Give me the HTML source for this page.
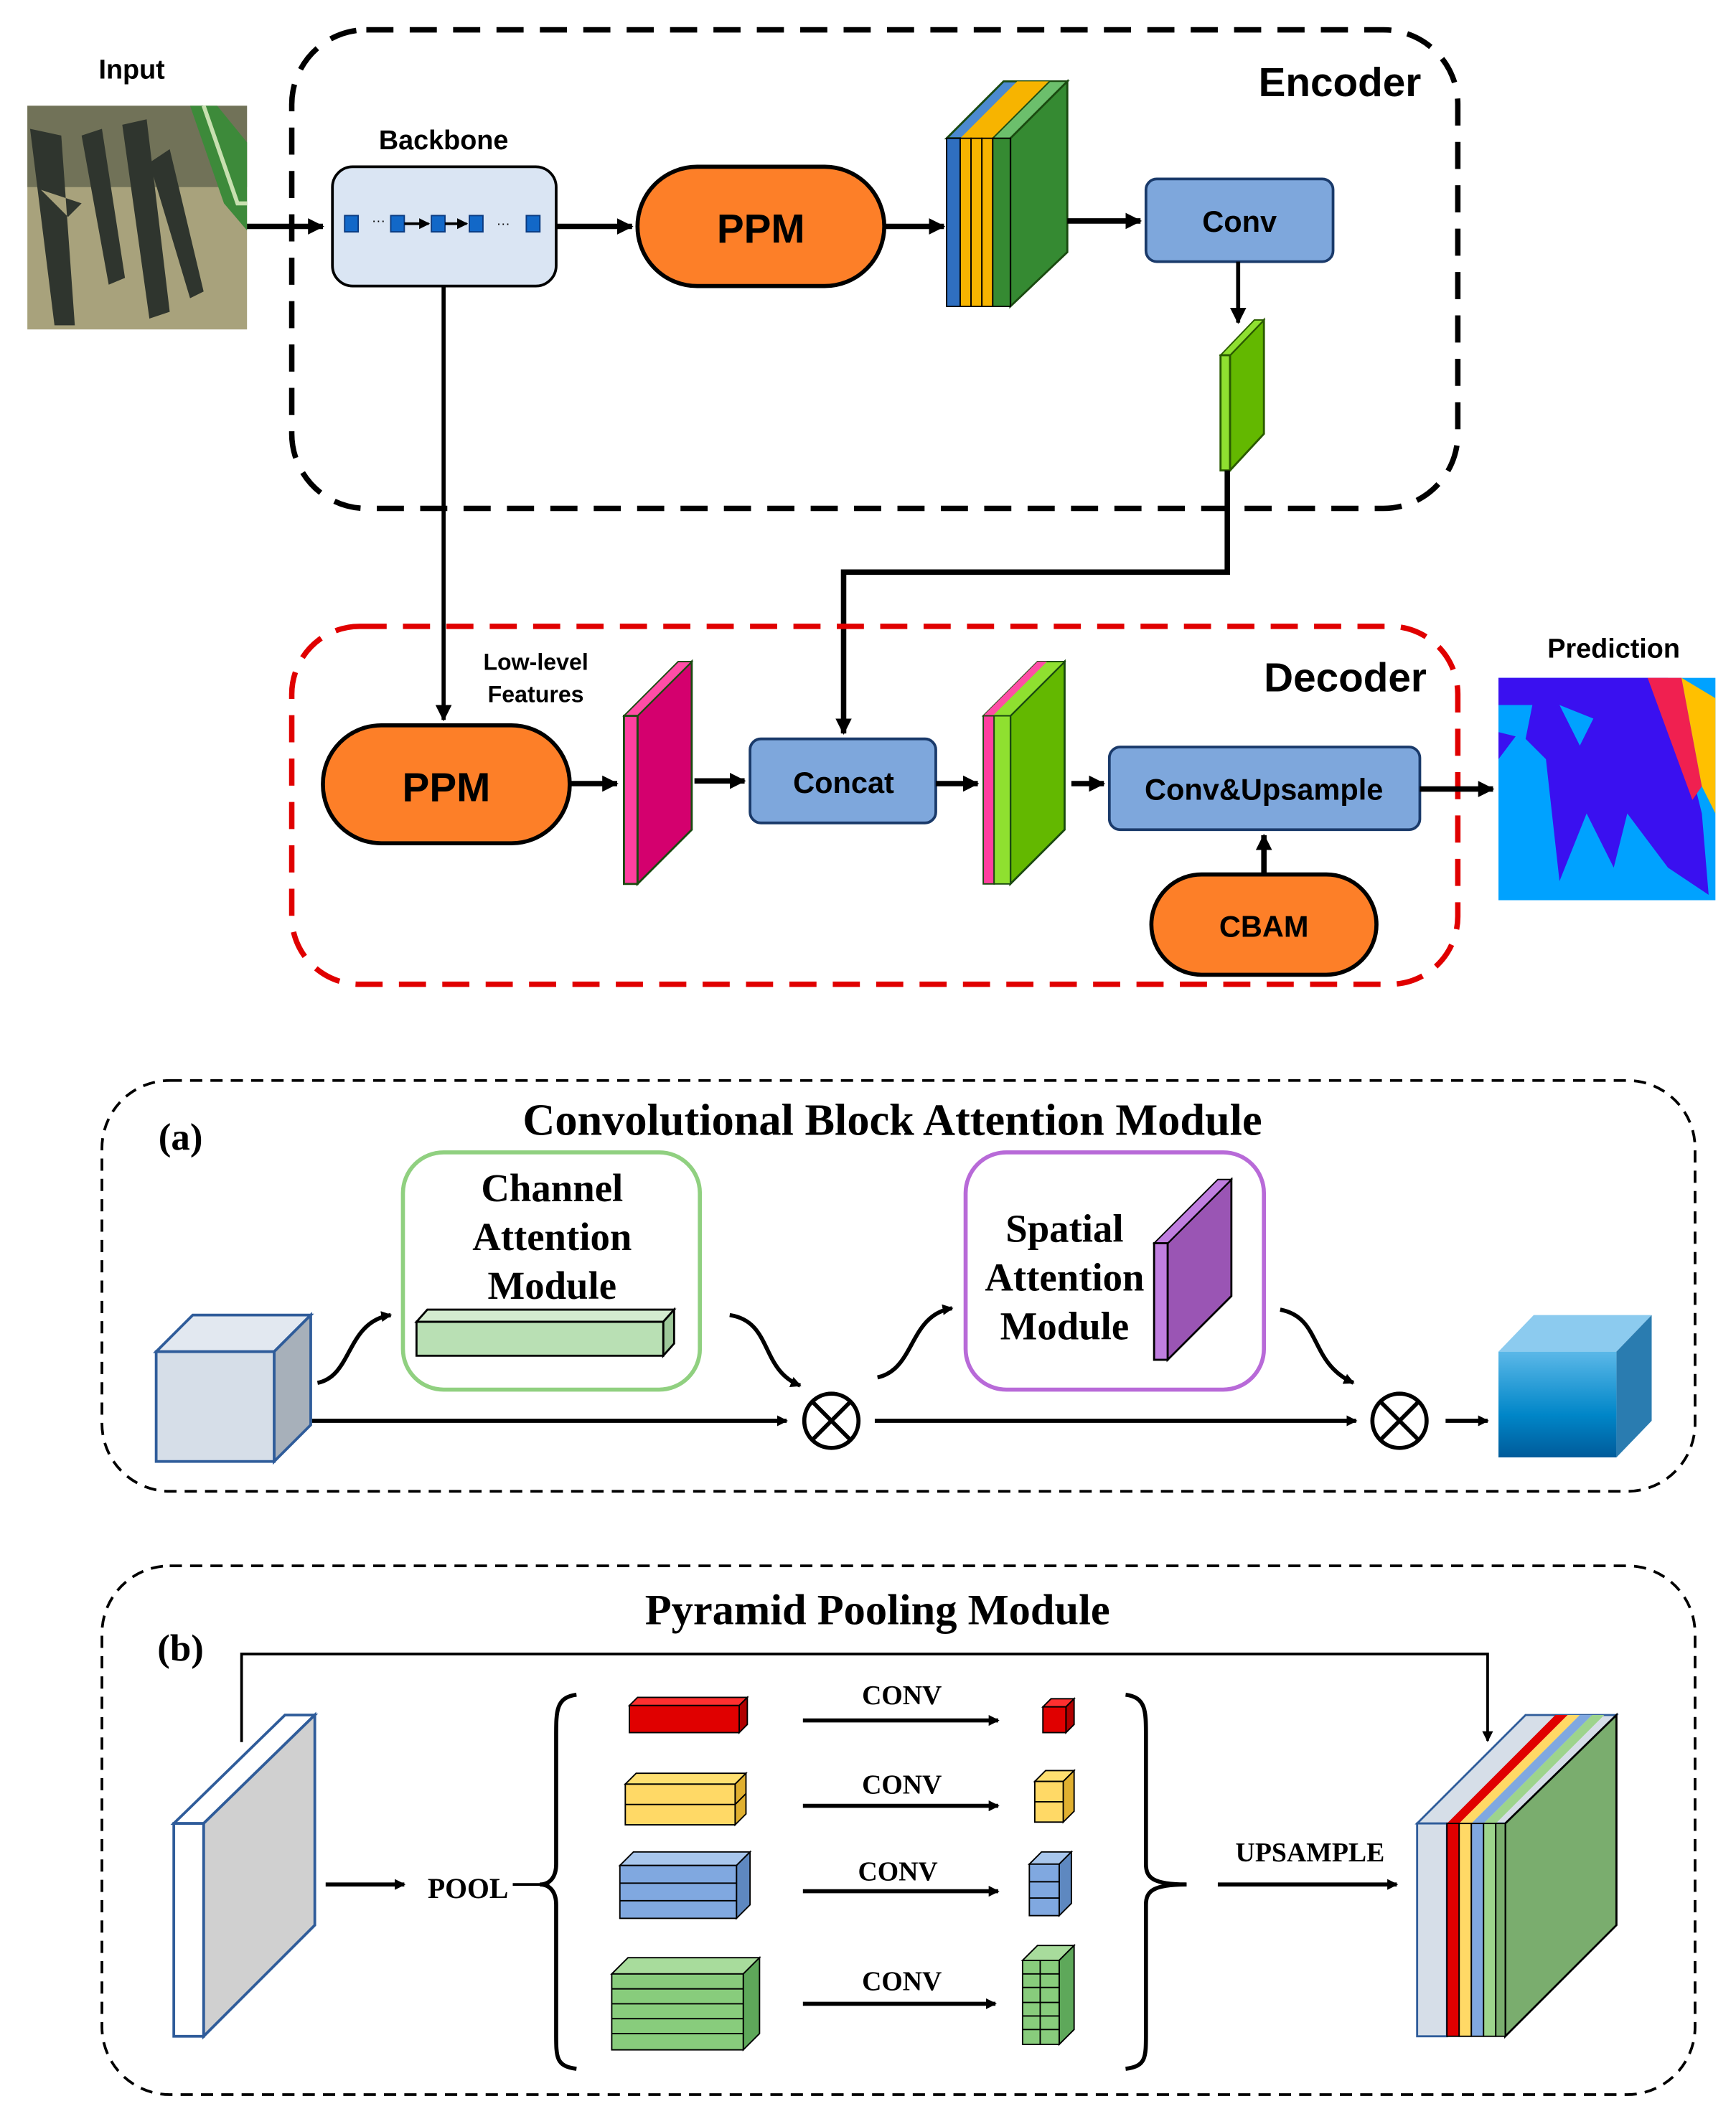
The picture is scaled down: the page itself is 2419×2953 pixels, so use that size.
<!DOCTYPE html>
<html><head><meta charset="utf-8"><style>
html,body{margin:0;padding:0;background:#fff;}
svg{display:block;}
.s{font-family:"Liberation Sans",sans-serif;font-weight:bold;}
.r{font-family:"Liberation Serif",serif;font-weight:bold;}
</style></head><body>
<svg width="2419" height="2953" viewBox="0 0 1280 1563" xmlns="http://www.w3.org/2000/svg">
<defs>
<marker id="ah" markerWidth="8" markerHeight="8" refX="7" refY="4" orient="auto" markerUnits="userSpaceOnUse"><path d="M0,0 L8,4 L0,8 z" fill="#000"/></marker>
<marker id="ah2" markerWidth="12" markerHeight="12" refX="11" refY="6" orient="auto" markerUnits="userSpaceOnUse"><path d="M0,0 L12,6 L0,12 z" fill="#000"/></marker>
<linearGradient id="cg" x1="0" y1="0" x2="0" y2="1"><stop offset="0" stop-color="#5bb8e8"/><stop offset="0.6" stop-color="#0086c8"/><stop offset="1" stop-color="#005b9a"/></linearGradient>
</defs>

<!-- Encoder -->
<rect x="215" y="22" width="860" height="353" rx="55" fill="none" stroke="#000" stroke-width="4" stroke-dasharray="20,12"/>
<text x="988" y="71" class="s" font-size="30" text-anchor="middle">Encoder</text>
<text x="97" y="58" class="s" font-size="20" text-anchor="middle">Input</text>
<rect x="20" y="78" width="162" height="165" fill="#a8a27c"/>
<path d="M20,78 h162 v60 h-162z" fill="#5a5e48" opacity="0.7"/>
<path d="M22,95 L40,240 L55,240 L45,100 Z M60,100 L80,210 L92,205 L75,95 Z M90,92 L110,235 L125,230 L108,88 Z M110,120 L140,220 L150,215 L125,110Z M30,140 L60,150 L50,160Z" fill="#2f352e"/>
<path d="M140,78 L165,150 L182,170 L182,105 L160,78 Z" fill="#3d8a3a"/>
<path d="M150,78 L175,150 L182,150" stroke="#c8e0b0" stroke-width="3" fill="none"/>
<path d="M182,167 L238,167" stroke="#000" stroke-width="4" marker-end="url(#ah2)"/>
<text x="327" y="110" class="s" font-size="20" text-anchor="middle">Backbone</text>
<rect x="245" y="123" width="165" height="88" rx="15" fill="#dae5f3" stroke="#000" stroke-width="2"/>
<g fill="#1268c8" stroke="#0a3a80" stroke-width="1">
<rect x="254" y="159" width="10" height="12"/><rect x="288" y="159" width="10" height="12"/><rect x="318" y="159" width="10" height="12"/><rect x="346" y="159" width="10" height="12"/><rect x="388" y="159" width="10" height="12"/></g>
<text x="274" y="166" font-size="10" font-family="Liberation Sans">···</text>
<text x="366" y="168" font-size="10" font-family="Liberation Sans">···</text>
<path d="M328,165 L344,165" stroke="#000" stroke-width="2" marker-end="url(#ah)"/>
<path d="M298,165 L316,165" stroke="#000" stroke-width="2" marker-end="url(#ah)"/>
<path d="M410,167 L466,167" stroke="#000" stroke-width="4" marker-end="url(#ah2)"/>
<rect x="470" y="123" width="182" height="88" rx="44" fill="#fd7f28" stroke="#000" stroke-width="3"/>
<text x="561" y="179" class="s" font-size="30" text-anchor="middle">PPM</text>
<path d="M652,167 L696,167" stroke="#000" stroke-width="4" marker-end="url(#ah2)"/>
<path d="M698,102 L740,60 L787,60 L745,102Z" fill="#4b8ad0" stroke="#1a4a10" stroke-width="1.5"/>
<path d="M708,102 L750,60 L774,60 L732,102Z" fill="#f7b400"/>
<path d="M732,102 L774,60 L787,60 L745,102Z" fill="#6cbf6c" stroke="#1a4a10" stroke-width="1"/>
<path d="M745,102 L787,60 L787,186 L745,226Z" fill="#358a32" stroke="#1a4a10" stroke-width="1.5"/>
<rect x="698" y="102" width="10" height="124" fill="#2f6fc0" stroke="#000" stroke-width="1"/>
<rect x="708" y="102" width="8" height="124" fill="#f7b400" stroke="#000" stroke-width="1"/>
<rect x="716" y="102" width="8" height="124" fill="#f7b400" stroke="#000" stroke-width="1"/>
<rect x="724" y="102" width="8" height="124" fill="#f7b400" stroke="#000" stroke-width="1"/>
<rect x="732" y="102" width="13" height="124" fill="#358a32" stroke="#000" stroke-width="1"/>
<path d="M787,163 L841,163" stroke="#000" stroke-width="4" marker-end="url(#ah2)"/>
<rect x="845" y="132" width="138" height="61" rx="8" fill="#7ea7dc" stroke="#1a3a6a" stroke-width="2"/>
<text x="914" y="171" class="s" font-size="22" text-anchor="middle">Conv</text>
<path d="M913,193 L913,238" stroke="#000" stroke-width="3" marker-end="url(#ah2)"/>
<path d="M907,262 L932,236 L932,320 L907,347Z" fill="#63b800" stroke="#2a5a00" stroke-width="1.5"/>
<path d="M900,262 L925,236 L932,236 L907,262Z" fill="#8fe030" stroke="#2a5a00" stroke-width="1"/>
<rect x="900" y="262" width="7" height="85" fill="#8fe030" stroke="#2a5a00" stroke-width="1.5"/>
<path d="M905,347 L905,422 L622,422 L622,541" stroke="#000" stroke-width="4" fill="none" marker-end="url(#ah2)"/>
<path d="M327,211 L327,531" stroke="#000" stroke-width="3" marker-end="url(#ah2)"/>

<!-- Decoder -->
<rect x="215" y="462" width="860" height="264" rx="50" fill="none" stroke="#e00000" stroke-width="4" stroke-dasharray="20,12"/>
<text x="992" y="510" class="s" font-size="30" text-anchor="middle">Decoder</text>
<text x="395" y="494" class="s" font-size="17" text-anchor="middle">Low-level</text>
<text x="395" y="518" class="s" font-size="17" text-anchor="middle">Features</text>
<rect x="238" y="535" width="182" height="87" rx="43" fill="#fd7f28" stroke="#000" stroke-width="3"/>
<text x="329" y="591" class="s" font-size="30" text-anchor="middle">PPM</text>
<path d="M420,578 L455,578" stroke="#000" stroke-width="4" marker-end="url(#ah2)"/>
<path d="M470,528 L510,488 L510,612 L470,652Z" fill="#d4006e" stroke="#1a4a10" stroke-width="1.5"/>
<path d="M460,528 L500,488 L510,488 L470,528Z" fill="#ff4da6" stroke="#1a4a10" stroke-width="1"/>
<rect x="460" y="528" width="10" height="124" fill="#ff3f9f" stroke="#1a4a10" stroke-width="1.5"/>
<path d="M512,576 L549,576" stroke="#000" stroke-width="4" marker-end="url(#ah2)"/>
<rect x="553" y="545" width="137" height="62" rx="8" fill="#7ea7dc" stroke="#1a3a6a" stroke-width="2"/>
<text x="622" y="585" class="s" font-size="22" text-anchor="middle">Concat</text>
<path d="M690,578 L721,578" stroke="#000" stroke-width="4" marker-end="url(#ah2)"/>
<path d="M745,528 L785,488 L785,612 L745,652Z" fill="#63b800" stroke="#1a4a10" stroke-width="1.5"/>
<path d="M725,528 L765,488 L785,488 L745,528Z" fill="#8fe030" stroke="#1a4a10" stroke-width="1"/>
<path d="M725,528 L765,488 L772,488 L732,528Z" fill="#ff4da6"/>
<rect x="725" y="528" width="8" height="124" fill="#ff3f9f" stroke="#1a4a10" stroke-width="1"/>
<rect x="733" y="528" width="12" height="124" fill="#8fe030" stroke="#1a4a10" stroke-width="1"/>
<path d="M790,578 L814,578" stroke="#000" stroke-width="4" marker-end="url(#ah2)"/>
<rect x="818" y="551" width="229" height="61" rx="8" fill="#7ea7dc" stroke="#1a3a6a" stroke-width="2"/>
<text x="932" y="590" class="s" font-size="22" text-anchor="middle">Conv&amp;Upsample</text>
<path d="M1047,582 L1101,582" stroke="#000" stroke-width="4" marker-end="url(#ah2)"/>
<rect x="849" y="645" width="166" height="74" rx="37" fill="#fd7f28" stroke="#000" stroke-width="3"/>
<text x="932" y="691" class="s" font-size="22" text-anchor="middle">CBAM</text>
<path d="M932,645 L932,616" stroke="#000" stroke-width="4" marker-end="url(#ah2)"/>
<text x="1190" y="485" class="s" font-size="20" text-anchor="middle">Prediction</text>
<rect x="1105" y="500" width="160" height="164" fill="#00a2ff"/>
<path d="M1105,500 L1230,500 L1255,600 L1260,660 L1230,640 L1200,600 L1190,640 L1170,600 L1150,650 L1140,560 L1120,540 L1105,560Z" fill="#3a10f0"/>
<path d="M1105,520 L1130,520 L1125,545 L1105,540Z M1150,520 L1175,530 L1165,550Z" fill="#00a2ff"/>
<path d="M1215,500 L1240,500 L1255,580 L1248,590Z" fill="#f02050"/>
<path d="M1240,500 L1265,515 L1265,600 L1255,580Z" fill="#ffc000"/>

<!-- (a) CBAM -->
<rect x="75" y="797" width="1175" height="303" rx="50" fill="none" stroke="#000" stroke-width="2" stroke-dasharray="9,6"/>
<text x="658" y="837" class="r" font-size="33" text-anchor="middle">Convolutional Block Attention Module</text>
<text x="133" y="848" class="r" font-size="28" text-anchor="middle">(a)</text>
<rect x="297" y="850" width="219" height="175" rx="30" fill="none" stroke="#90d080" stroke-width="3"/>
<text x="407" y="886" class="r" font-size="29" text-anchor="middle">Channel</text>
<text x="407" y="922" class="r" font-size="29" text-anchor="middle">Attention</text>
<text x="407" y="958" class="r" font-size="29" text-anchor="middle">Module</text>
<path d="M307,975 L315,966 L497,966 L489,975Z" fill="#d4ecd0" stroke="#000" stroke-width="1.5"/>
<path d="M489,975 L497,966 L497,991 L489,1000Z" fill="#9ec89a" stroke="#000" stroke-width="1.5"/>
<rect x="307" y="975" width="182" height="25" fill="#b9e0b4" stroke="#000" stroke-width="1.5"/>
<rect x="712" y="850" width="220" height="175" rx="30" fill="none" stroke="#b86ad8" stroke-width="3"/>
<text x="785" y="916" class="r" font-size="29" text-anchor="middle">Spatial</text>
<text x="785" y="952" class="r" font-size="29" text-anchor="middle">Attention</text>
<text x="785" y="988" class="r" font-size="29" text-anchor="middle">Module</text>
<path d="M861,917 L908,870 L908,956 L861,1003Z" fill="#9a55b4" stroke="#000" stroke-width="1.5"/>
<path d="M851,917 L898,870 L908,870 L861,917Z" fill="#c07ee0" stroke="#000" stroke-width="1"/>
<rect x="851" y="917" width="10" height="86" fill="#c07ee0" stroke="#000" stroke-width="1.5"/>
<path d="M115,997 L142,970 L229,970 L202,997Z" fill="#e2e8f0" stroke="#2f5c9a" stroke-width="2"/>
<path d="M202,997 L229,970 L229,1051 L202,1078Z" fill="#a7b0ba" stroke="#2f5c9a" stroke-width="2"/>
<rect x="115" y="997" width="87" height="81" fill="#d6dee8" stroke="#2f5c9a" stroke-width="2"/>
<path d="M234,1020 C260,1015 255,975 288,970" stroke="#000" stroke-width="3" fill="none" marker-end="url(#ah)"/>
<path d="M538,970 C570,975 560,1010 590,1022" stroke="#000" stroke-width="3" fill="none" marker-end="url(#ah)"/>
<path d="M647,1016 C675,1010 670,970 702,965" stroke="#000" stroke-width="3" fill="none" marker-end="url(#ah)"/>
<path d="M944,966 C975,972 965,1005 998,1020" stroke="#000" stroke-width="3" fill="none" marker-end="url(#ah)"/>
<path d="M230,1048 L580,1048" stroke="#000" stroke-width="3" marker-end="url(#ah)"/>
<circle cx="613" cy="1048" r="20" fill="none" stroke="#000" stroke-width="3"/>
<path d="M599,1034 L627,1062 M627,1034 L599,1062" stroke="#000" stroke-width="3"/>
<path d="M645,1048 L1000,1048" stroke="#000" stroke-width="3" marker-end="url(#ah)"/>
<circle cx="1032" cy="1048" r="20" fill="none" stroke="#000" stroke-width="3"/>
<path d="M1018,1034 L1046,1062 M1046,1034 L1018,1062" stroke="#000" stroke-width="3"/>
<path d="M1066,1048 L1097,1048" stroke="#000" stroke-width="3" marker-end="url(#ah)"/>
<path d="M1105,997 L1131,970 L1218,970 L1192,997Z" fill="#8ccbef"/>
<path d="M1192,997 L1218,970 L1218,1048 L1192,1075Z" fill="#2a7cb0"/>
<rect x="1105" y="997" width="87" height="78" fill="url(#cg)"/>

<!-- (b) PPM -->
<rect x="75" y="1155" width="1175" height="390" rx="50" fill="none" stroke="#000" stroke-width="2" stroke-dasharray="9,6"/>
<text x="647" y="1198" class="r" font-size="32" text-anchor="middle">Pyramid Pooling Module</text>
<text x="133" y="1225" class="r" font-size="28" text-anchor="middle">(b)</text>
<path d="M128,1345 L210,1265 L232,1265 L150,1345Z" fill="#fff" stroke="#2f5c9a" stroke-width="2"/>
<path d="M150,1345 L232,1265 L232,1420 L150,1502Z" fill="#d0d0d0" stroke="#2f5c9a" stroke-width="2"/>
<rect x="128" y="1345" width="22" height="157" fill="#fff" stroke="#2f5c9a" stroke-width="2"/>
<path d="M178,1285 L178,1220 L1097,1220 L1097,1284" stroke="#000" stroke-width="2" fill="none" marker-end="url(#ah)"/>
<path d="M240,1390 L298,1390" stroke="#000" stroke-width="3" marker-end="url(#ah)"/>
<text x="345" y="1400" class="r" font-size="21" text-anchor="middle">POOL</text>
<path d="M378,1390 L405,1390" stroke="#000" stroke-width="2"/>
<path d="M425,1250 C410,1252 410,1262 410,1280 L410,1375 C410,1385 405,1390 398,1390 C405,1390 410,1395 410,1405 L410,1500 C410,1518 410,1524 425,1526" stroke="#000" stroke-width="3" fill="none"/>
<path d="M830,1250 C845,1252 845,1262 845,1280 L845,1375 C845,1385 850,1390 875,1390 C850,1390 845,1395 845,1405 L845,1500 C845,1518 845,1524 830,1526" stroke="#000" stroke-width="3" fill="none"/>
<path d="M464,1258 L470,1252 L551,1252 L545,1258Z" fill="#ff3030" stroke="#000" stroke-width="1"/>
<path d="M545,1258 L551,1252 L551,1272 L545,1278Z" fill="#b00000" stroke="#000" stroke-width="1"/>
<rect x="464" y="1258" width="81" height="20" fill="#e00000" stroke="#000" stroke-width="1"/>
<path d="M461,1316 L469,1308 L550,1308 L542,1316Z" fill="#ffe070" stroke="#000" stroke-width="1"/>
<path d="M542,1316 L550,1308 L550,1338 L542,1346Z" fill="#e0b030" stroke="#000" stroke-width="1"/>
<rect x="461" y="1316" width="81" height="30" fill="#ffd966" stroke="#000" stroke-width="1"/>
<path d="M461,1331 L542,1331 L550,1323" stroke="#000" stroke-width="1" fill="none"/>
<path d="M457,1376 L467,1366 L553,1366 L543,1376Z" fill="#a8c6ec" stroke="#000" stroke-width="1"/>
<path d="M543,1376 L553,1366 L553,1405 L543,1415Z" fill="#5e88c0" stroke="#000" stroke-width="1"/>
<rect x="457" y="1376" width="86" height="39" fill="#80a8e0" stroke="#000" stroke-width="1"/>
<path d="M457,1389 L543,1389 M457,1402 L543,1402" stroke="#000" stroke-width="1"/>
<path d="M451,1456 L463,1444 L560,1444 L548,1456Z" fill="#a8dc9c" stroke="#000" stroke-width="1"/>
<path d="M548,1456 L560,1444 L560,1500 L548,1512Z" fill="#5ea85a" stroke="#000" stroke-width="1"/>
<rect x="451" y="1456" width="97" height="56" fill="#88cc7c" stroke="#000" stroke-width="1"/>
<path d="M451,1467 L548,1467 M451,1478 L548,1478 M451,1489 L548,1489 M451,1500 L548,1500" stroke="#000" stroke-width="1"/>
<g class="r" font-size="20" text-anchor="middle">
<text x="665" y="1257">CONV</text><text x="665" y="1323">CONV</text><text x="662" y="1387">CONV</text><text x="665" y="1468">CONV</text></g>
<g stroke="#000" stroke-width="3" marker-end="url(#ah)">
<path d="M592,1269 L736,1269"/><path d="M592,1332 L736,1332"/><path d="M592,1395 L736,1395"/><path d="M592,1478 L734,1478"/></g>
<path d="M769,1259 L775,1253 L792,1253 L786,1259Z" fill="#ff3030" stroke="#000"/>
<path d="M786,1259 L792,1253 L792,1272 L786,1278Z" fill="#b00000" stroke="#000"/>
<rect x="769" y="1259" width="17" height="19" fill="#e00000" stroke="#000"/>
<path d="M763,1314 L771,1306 L792,1306 L784,1314Z" fill="#ffe070" stroke="#000"/>
<path d="M784,1314 L792,1306 L792,1336 L784,1344Z" fill="#e0b030" stroke="#000"/>
<rect x="763" y="1314" width="21" height="30" fill="#ffd966" stroke="#000"/>
<path d="M763,1329 L784,1329" stroke="#000"/>
<path d="M759,1375 L768,1366 L790,1366 L781,1375Z" fill="#a8c6ec" stroke="#000"/>
<path d="M781,1375 L790,1366 L790,1404 L781,1413Z" fill="#5e88c0" stroke="#000"/>
<rect x="759" y="1375" width="22" height="38" fill="#80a8e0" stroke="#000"/>
<path d="M759,1388 L781,1388 M759,1400 L781,1400" stroke="#000"/>
<path d="M754,1446 L765,1435 L792,1435 L781,1446Z" fill="#a8dc9c" stroke="#000"/>
<path d="M781,1446 L792,1435 L792,1497 L781,1508Z" fill="#5ea85a" stroke="#000"/>
<rect x="754" y="1446" width="27" height="62" fill="#88cc7c" stroke="#000"/>
<path d="M754,1456 L781,1456 M754,1466 L781,1466 M754,1477 L781,1477 M754,1487 L781,1487 M754,1497 L781,1497 M767,1446 L767,1508" stroke="#000"/>
<text x="966" y="1373" class="r" font-size="20" text-anchor="middle">UPSAMPLE</text>
<path d="M898,1390 L1030,1390" stroke="#000" stroke-width="3" marker-end="url(#ah)"/>
<path d="M1045,1345 L1125,1265 L1192,1265 L1112,1345Z" fill="#d6dee8" stroke="#2f5c9a" stroke-width="1.5"/>
<path d="M1067,1345 L1147,1265 L1156,1265 L1076,1345Z" fill="#e00000"/>
<path d="M1076,1345 L1156,1265 L1165,1265 L1085,1345Z" fill="#ffd966"/>
<path d="M1085,1345 L1165,1265 L1174,1265 L1094,1345Z" fill="#80a8e0"/>
<path d="M1094,1345 L1174,1265 L1183,1265 L1103,1345Z" fill="#9dd48c"/>
<path d="M1110,1345 L1192,1265 L1192,1420 L1110,1502Z" fill="#7aad6e" stroke="#000" stroke-width="1.5"/>
<rect x="1045" y="1345" width="22" height="157" fill="#d6dee8" stroke="#2f5c9a" stroke-width="1.5"/>
<rect x="1067" y="1345" width="9" height="157" fill="#e00000" stroke="#000" stroke-width="1"/>
<rect x="1076" y="1345" width="9" height="157" fill="#ffd966" stroke="#000" stroke-width="1"/>
<rect x="1085" y="1345" width="9" height="157" fill="#80a8e0" stroke="#000" stroke-width="1"/>
<rect x="1094" y="1345" width="9" height="157" fill="#9dd48c" stroke="#000" stroke-width="1"/>
<rect x="1103" y="1345" width="7" height="157" fill="#7aad6e" stroke="#000" stroke-width="1"/>
</svg>
</body></html>
